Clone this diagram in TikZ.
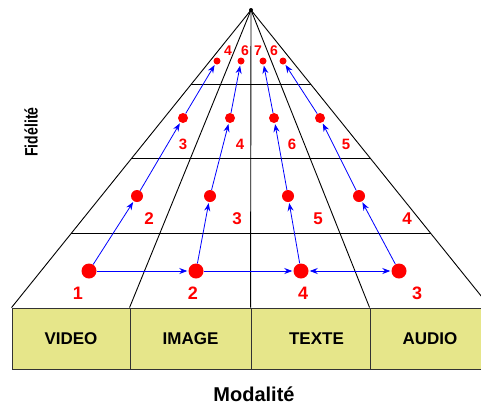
\documentclass[tikz,border=0pt]{standalone}
\usepackage{fontspec}
\setmainfont{Liberation Sans}
\usetikzlibrary{calc,arrows.meta}

\definecolor{boxyellow}{RGB}{230,230,138}

\begin{document}
\begin{tikzpicture}[x=1pt,y=-1pt,
  dot/.style={circle,fill=red,inner sep=0pt,minimum size=#1},
  num/.style={text=red,inner sep=0pt,font=\bfseries\fontsize{#1}{#1}\selectfont},
  step arrow/.style={blue,line width=0.8pt,-{Stealth[length=8pt,width=6pt]},shorten >=1pt},
  both arrow/.style={blue,line width=0.8pt,{Stealth[length=8pt,width=6pt]}-{Stealth[length=8pt,width=6pt]},shorten >=1pt,shorten <=1pt},
  grid line/.style={black,line width=0.9pt},
  modbox/.style={draw=black!80,line width=0.9pt,fill=boxyellow,minimum height=61pt,inner sep=0pt,
    font=\bfseries\fontsize{17}{17}\selectfont}]

  \useasboundingbox (0,0) rectangle (481,405);
  \clip (0,0) rectangle (481,405);

  % Modalities along the base
  \node [modbox, minimum width=118pt] (video) at (71,338.5) {VIDEO};
  \node [modbox, minimum width=121pt] (image) at (190.5,338.5) {IMAGE};
  \node [modbox, minimum width=119pt] (texte) at (310.5,338.5) {\hspace{12pt}TEXTE};
  \node [modbox, minimum width=120pt] (audio) at (430,338.5) {AUDIO};

  \node [font=\bfseries\fontsize{20}{20}\selectfont] (modalite) at (254,394) {Modalité};
  \node [rotate=90, font=\bfseries\fontsize{18}{18}\selectfont] (fidelite) at (31,132)
    {\scalebox{0.78}[1]{Fidélité}};

  % Pyramid
  \node [circle, fill=black, inner sep=0pt, minimum size=4pt] (apex) at (251,10) {};
  \draw [grid line] (apex.center) -- (video.north west);
  \draw [grid line] (apex.center) -- (image.north west);
  \draw [grid line] (apex.center) -- (texte.north west);
  \draw [grid line] (apex.center) -- (audio.north west);
  \draw [grid line] (apex.center) -- (audio.north east);
  \draw [grid line] ($(apex.center)!.25!(video.north west)$) -- ($(apex.center)!.25!(audio.north east)$);
  \draw [grid line] ($(apex.center)!.5!(video.north west)$) -- ($(apex.center)!.5!(audio.north east)$);
  \draw [grid line] ($(apex.center)!.75!(video.north west)$) -- ($(apex.center)!.75!(audio.north east)$);

  % Steps
  \node [dot=15pt] (v1) at (89,271) {};
  \node [dot=15pt] (i1) at (196,271) {};
  \node [dot=15pt] (t1) at (301,271) {};
  \node [dot=15pt] (a1) at (399,271) {};
  \node [dot=12pt] (v2) at (137,196) {};
  \node [dot=12pt] (i2) at (210,196) {};
  \node [dot=12pt] (t2) at (288,196) {};
  \node [dot=12pt] (a2) at (359,196) {};
  \node [dot=10pt] (v3) at (183,118) {};
  \node [dot=10pt] (i3) at (230,118) {};
  \node [dot=10pt] (t3) at (274,118) {};
  \node [dot=10pt] (a3) at (320,118) {};
  \node [dot=7pt] (v4) at (217,61) {};
  \node [dot=7pt] (i4) at (241,61) {};
  \node [dot=7pt] (t4) at (263,61) {};
  \node [dot=7pt] (a4) at (283,61) {};

  \node [num=18] (nv1) at (78,293) {1};
  \node [num=18] (ni1) at (193,293) {2};
  \node [num=18] (nt1) at (303,293) {4};
  \node [num=18] (na1) at (417,293) {3};
  \node [num=17] (nv2) at (149,219) {2};
  \node [num=17] (ni2) at (237,219) {3};
  \node [num=17] (nt2) at (318,219) {5};
  \node [num=17] (na2) at (407,219) {4};
  \node [num=15] (nv3) at (183,144) {3};
  \node [num=15] (ni3) at (240,144) {4};
  \node [num=15] (nt3) at (292,144) {6};
  \node [num=15] (na3) at (346,144) {5};
  \node [num=14] (nv4) at (228,51) {4};
  \node [num=14] (ni4) at (245,51) {6};
  \node [num=14] (nt4) at (258,51) {7};
  \node [num=14] (na4) at (274,51) {6};

  \draw [step arrow] (v1) -- (i1);
  \draw [step arrow] (i1) -- (t1);
  \draw [both arrow] (t1) -- (a1);

  \draw [step arrow] (v1) -- (v2);
  \draw [step arrow] (v2) -- (v3);
  \draw [step arrow] (v3) -- (v4);
  \draw [step arrow] (i1) -- (i2);
  \draw [step arrow] (i2) -- (i3);
  \draw [step arrow] (i3) -- (i4);
  \draw [step arrow] (t1) -- (t2);
  \draw [step arrow] (t2) -- (t3);
  \draw [step arrow] (t3) -- (t4);
  \draw [step arrow] (a1) -- (a2);
  \draw [step arrow] (a2) -- (a3);
  \draw [step arrow] (a3) -- (a4);
\end{tikzpicture}
\end{document}
